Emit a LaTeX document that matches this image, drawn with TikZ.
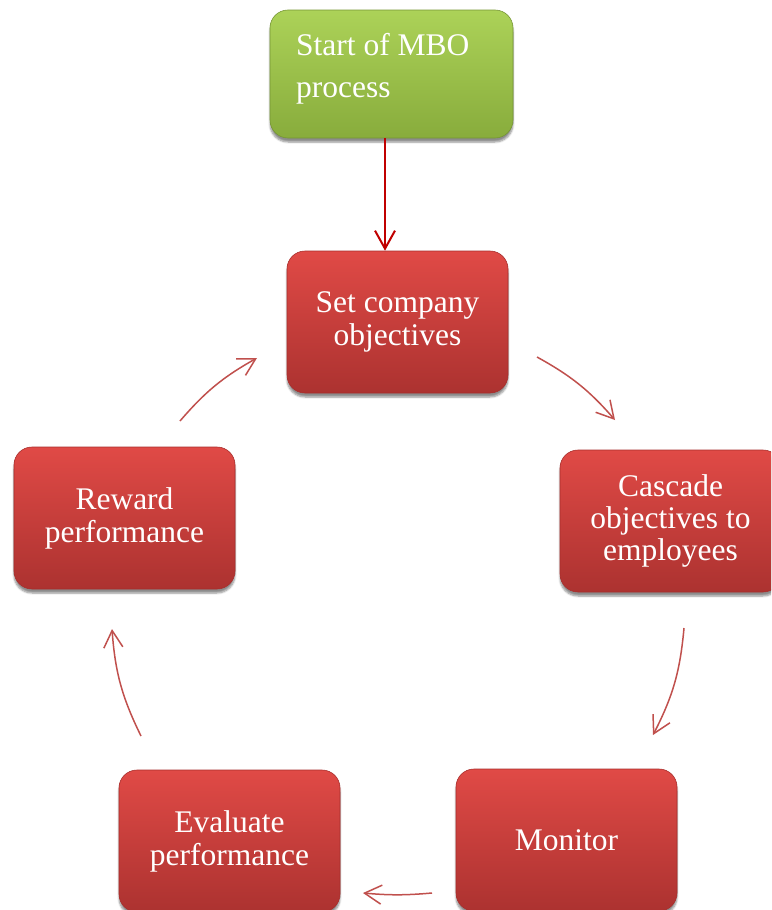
\documentclass[tikz,border=0pt]{standalone}
\usepackage{fontspec}
\setmainfont{Liberation Serif}
\usetikzlibrary{arrows.meta,shadows.blur}
\definecolor{redtop}{RGB}{224,74,70}
\definecolor{redmid}{RGB}{206,63,60}
\definecolor{redbot}{RGB}{172,50,48}
\definecolor{rededge}{RGB}{168,46,44}
\definecolor{greentop}{RGB}{172,210,88}
\definecolor{greenmid}{RGB}{158,195,75}
\definecolor{greenbot}{RGB}{136,172,60}
\definecolor{greenedge}{RGB}{118,150,52}
\definecolor{arrowred}{RGB}{192,80,77}
\definecolor{darkred}{RGB}{192,0,0}
\begin{document}
\begin{tikzpicture}[x=1pt,y=-1pt,
  boxbase/.style={rounded corners=18pt, minimum width=221pt, minimum height=142pt,
    inner sep=0pt, align=center, text=white, line width=0.6pt,
    blur shadow={shadow xshift=0pt, shadow yshift=-4pt, shadow blur steps=6, shadow opacity=45}},
  redbox/.style={boxbase, top color=redtop, middle color=redmid, bottom color=redbot, draw=rededge,
    font=\fontsize{31.5}{33}\selectfont},
  greenbox/.style={boxbase, minimum width=243pt, minimum height=128pt,
    top color=greentop, middle color=greenmid, bottom color=greenbot, draw=greenedge},
  txt/.style={inner sep=0pt, text=white, align=left, font=\fontsize{31.5}{42}\selectfont},
  flow/.style={draw=arrowred, line width=1.5pt, -{Straight Barb[length=17pt,width=19pt]}},
  startflow/.style={draw=darkred, line width=2pt, -{Straight Barb[length=18pt,width=20pt]}}
]
\useasboundingbox (0,0) rectangle (771,910);
\clip (0,0) rectangle (771,910);

\node[greenbox] (start) at (391.5,74) {};
\node[txt, anchor=north west] (starttxt) at (296,33) {Start of MBO\\process};

\node[redbox] (set) at (397.5,322) {Set company\\objectives};
\node[redbox, font=\fontsize{31.5}{32}\selectfont] (cascade) at (670.5,521) {Cascade\\objectives to\\employees};
\node[redbox] (monitor) at (566.5,840) {Monitor};
\node[redbox] (evaluate) at (229.5,841) {Evaluate\\performance};
\node[redbox] (reward) at (124.5,518) {Reward\\performance};

\coordinate (ax) at (385,248);
\draw[startflow] (start.south -| ax) -- (set.north -| ax);

\coordinate (a1s) at (537,357);
\coordinate (a1e) at (615,420);
\coordinate (a2s) at (684,628);
\coordinate (a2e) at (653,735);
\coordinate (a3s) at (432,893);
\coordinate (a3e) at (363,893);
\coordinate (a4s) at (141,736);
\coordinate (a4e) at (112,629);
\coordinate (a5s) at (180,421);
\coordinate (a5e) at (257,358);

\draw[flow] (a1s) to[bend left=10] (a1e);
\draw[flow] (a2s) to[bend left=11] (a2e);
\draw[flow] (a3s) to[bend left=5] (a3e);
\draw[flow] (a4s) to[bend left=11] (a4e);
\draw[flow] (a5s) to[bend left=10] (a5e);
\end{tikzpicture}
\end{document}
